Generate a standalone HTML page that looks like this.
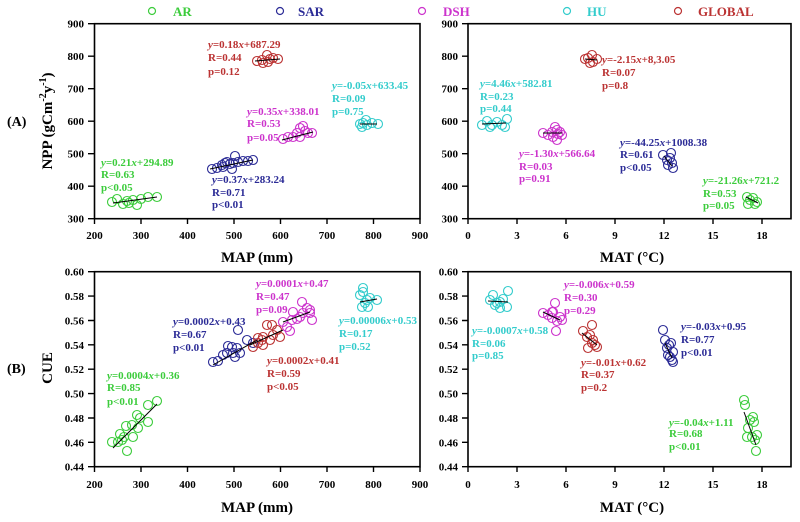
<!DOCTYPE html>
<html><head><meta charset="utf-8"><style>
html,body{margin:0;padding:0;background:#fff;}
svg{display:block;font-family:"Liberation Serif",serif;font-weight:bold;}
.t{font-size:11px;}
.ax{font-size:15px;}
.a{font-size:11px;}
.AR{fill:#3ccc3c;} .SAR{fill:#2b2b96;} .DSH{fill:#cc33cc;} .HU{fill:#33cccc;} .GL{fill:#bb3333;}
</style></head><body>
<svg width="800" height="522" viewBox="0 0 800 522" xmlns="http://www.w3.org/2000/svg">
<!-- Legend -->
<g fill="none" stroke-width="1.2">
<circle cx="152" cy="11" r="3.5" stroke="#3ccc3c"/>
<circle cx="280" cy="11" r="3.5" stroke="#2b2b96"/>
<circle cx="422" cy="11" r="3.5" stroke="#cc33cc"/>
<circle cx="567" cy="11" r="3.5" stroke="#33cccc"/>
<circle cx="678" cy="11" r="3.5" stroke="#bb3333"/>
</g>
<g style="font-size:13px">
<text x="173" y="16" class="AR">AR</text>
<text x="298" y="16" class="SAR">SAR</text>
<text x="443" y="16" class="DSH">DSH</text>
<text x="587" y="16" class="HU">HU</text>
<text x="698" y="16" class="GL">GLOBAL</text>
</g>

<!-- Panel frames -->
<g fill="none" stroke="#000" stroke-width="1.6">
<rect x="94.5" y="23.7" width="325.5" height="195"/>
<rect x="468" y="23.7" width="323" height="195"/>
<rect x="94.5" y="271.7" width="325.5" height="195"/>
<rect x="468" y="271.7" width="323" height="195"/>
</g>
<!-- ticks -->
<g stroke="#000" stroke-width="1.4">
<path d="M88 23.7H94.5M88 56.2H94.5M88 88.7H94.5M88 121.2H94.5M88 153.7H94.5M88 186.2H94.5M88 218.7H94.5"/>
<path d="M462 23.7H468M462 56.2H468M462 88.7H468M462 121.2H468M462 153.7H468M462 186.2H468M462 218.7H468"/>
<path d="M88 271.7H94.5M88 296.1H94.5M88 320.5H94.5M88 344.8H94.5M88 369.2H94.5M88 393.6H94.5M88 418H94.5M88 442.3H94.5M88 466.7H94.5"/>
<path d="M462 271.7H468M462 296.1H468M462 320.5H468M462 344.8H468M462 369.2H468M462 393.6H468M462 418H468M462 442.3H468M462 466.7H468"/>
<path d="M94.5 218.7V224M141 218.7V224M187.5 218.7V224M234 218.7V224M280.5 218.7V224M327 218.7V224M373.5 218.7V224M420 218.7V224"/>
<path d="M468 218.7V224M517 218.7V224M566 218.7V224M615 218.7V224M664 218.7V224M713 218.7V224M762 218.7V224"/>
<path d="M94.5 466.7V472M141 466.7V472M187.5 466.7V472M234 466.7V472M280.5 466.7V472M327 466.7V472M373.5 466.7V472M420 466.7V472"/>
<path d="M468 466.7V472M517 466.7V472M566 466.7V472M615 466.7V472M664 466.7V472M713 466.7V472M762 466.7V472"/>
</g>
<!-- tick labels -->
<g class="t" text-anchor="end">
<text x="84" y="27.7">900</text><text x="84" y="60.2">800</text><text x="84" y="92.7">700</text><text x="84" y="125.2">600</text><text x="84" y="157.7">500</text><text x="84" y="190.2">400</text><text x="84" y="222.7">300</text>
<text x="458" y="27.7">900</text><text x="458" y="60.2">800</text><text x="458" y="92.7">700</text><text x="458" y="125.2">600</text><text x="458" y="157.7">500</text><text x="458" y="190.2">400</text><text x="458" y="222.7">300</text>
<text x="84" y="275.7">0.60</text><text x="84" y="300.1">0.58</text><text x="84" y="324.5">0.56</text><text x="84" y="348.8">0.54</text><text x="84" y="373.2">0.52</text><text x="84" y="397.6">0.50</text><text x="84" y="422">0.48</text><text x="84" y="446.3">0.46</text><text x="84" y="470.7">0.44</text>
<text x="458" y="275.7">0.60</text><text x="458" y="300.1">0.58</text><text x="458" y="324.5">0.56</text><text x="458" y="348.8">0.54</text><text x="458" y="373.2">0.52</text><text x="458" y="397.6">0.50</text><text x="458" y="422">0.48</text><text x="458" y="446.3">0.46</text><text x="458" y="470.7">0.44</text>
</g>
<g class="t" text-anchor="middle">
<text x="94.5" y="239">200</text><text x="141" y="239">300</text><text x="187.5" y="239">400</text><text x="234" y="239">500</text><text x="280.5" y="239">600</text><text x="327" y="239">700</text><text x="373.5" y="239">800</text><text x="420" y="239">900</text>
<text x="468" y="239">0</text><text x="517" y="239">3</text><text x="566" y="239">6</text><text x="615" y="239">9</text><text x="664" y="239">12</text><text x="713" y="239">15</text><text x="762" y="239">18</text>
<text x="94.5" y="488">200</text><text x="141" y="488">300</text><text x="187.5" y="488">400</text><text x="234" y="488">500</text><text x="280.5" y="488">600</text><text x="327" y="488">700</text><text x="373.5" y="488">800</text><text x="420" y="488">900</text>
<text x="468" y="488">0</text><text x="517" y="488">3</text><text x="566" y="488">6</text><text x="615" y="488">9</text><text x="664" y="488">12</text><text x="713" y="488">15</text><text x="762" y="488">18</text>
</g>
<!-- axis titles -->
<g class="ax" text-anchor="middle">
<text x="257" y="262">MAP (mm)</text>
<text x="632" y="262">MAT (°C)</text>
<text x="257" y="512">MAP (mm)</text>
<text x="632" y="512">MAT (°C)</text>
<text transform="translate(52,121) rotate(-90)">NPP (gCm<tspan dy="-6" style="font-size:10px">-2</tspan><tspan dy="6">y</tspan><tspan dy="-6" style="font-size:10px">-1</tspan><tspan dy="6">)</tspan></text>
<text transform="translate(52,368) rotate(-90)">CUE</text>
</g>
<g style="font-size:14px">
<text x="7" y="126">(A)</text>
<text x="7" y="373">(B)</text>
</g>

<!-- ============ Top-left panel ============ -->
<g fill="none" stroke-width="1.1">
<g stroke="#3ccc3c">
<circle cx="112" cy="202" r="4.5"/><circle cx="117" cy="199" r="4.5"/><circle cx="123" cy="204" r="4.5"/><circle cx="127" cy="201" r="4.5"/><circle cx="133" cy="200" r="4.5"/><circle cx="137" cy="205" r="4.5"/><circle cx="141" cy="199" r="4.5"/><circle cx="148" cy="197" r="4.5"/><circle cx="157" cy="197" r="4.5"/><circle cx="129" cy="203" r="4.5"/>
</g>
<g stroke="#2b2b96">
<circle cx="212" cy="169" r="4.5"/><circle cx="217" cy="168" r="4.5"/><circle cx="222" cy="165" r="4.5"/><circle cx="225" cy="163" r="4.5"/><circle cx="227" cy="162" r="4.5"/><circle cx="230" cy="164" r="4.5"/><circle cx="232" cy="169" r="4.5"/><circle cx="235" cy="156" r="4.5"/><circle cx="238" cy="162" r="4.5"/><circle cx="243" cy="161" r="4.5"/><circle cx="248" cy="161" r="4.5"/><circle cx="253" cy="160" r="4.5"/><circle cx="223" cy="167" r="4.5"/><circle cx="233" cy="163" r="4.5"/>
</g>
<g stroke="#cc33cc">
<circle cx="283" cy="139" r="4.5"/><circle cx="288" cy="137" r="4.5"/><circle cx="293" cy="137" r="4.5"/><circle cx="297" cy="133" r="4.5"/><circle cx="300" cy="128" r="4.5"/><circle cx="303" cy="126" r="4.5"/><circle cx="305" cy="131" r="4.5"/><circle cx="308" cy="133" r="4.5"/><circle cx="312" cy="133" r="4.5"/><circle cx="300" cy="137" r="4.5"/>
</g>
<g stroke="#bb3333">
<circle cx="257" cy="61" r="4.5"/><circle cx="262" cy="60" r="4.5"/><circle cx="267" cy="55" r="4.5"/><circle cx="270" cy="59" r="4.5"/><circle cx="273" cy="58" r="4.5"/><circle cx="263" cy="63" r="4.5"/><circle cx="278" cy="59" r="4.5"/><circle cx="268" cy="62" r="4.5"/>
</g>
<g stroke="#33cccc">
<circle cx="360" cy="124" r="4.5"/><circle cx="363" cy="123" r="4.5"/><circle cx="366" cy="120" r="4.5"/><circle cx="367" cy="125" r="4.5"/><circle cx="372" cy="123" r="4.5"/><circle cx="378" cy="124" r="4.5"/><circle cx="362" cy="127" r="4.5"/>
</g>
</g>
<g stroke="#000" stroke-width="1">
<line x1="113" y1="203" x2="157" y2="197"/>
<line x1="210" y1="169" x2="253" y2="160"/>
<line x1="282" y1="140" x2="313" y2="132"/>
<line x1="255" y1="61" x2="280" y2="59"/>
<line x1="360" y1="124" x2="377" y2="124"/>
</g>
<g class="a">
<text class="AR" x="101" y="166"><tspan font-style="italic">y</tspan>=0.21<tspan font-style="italic">x</tspan>+294.89</text>
<text class="AR" x="101" y="178">R=0.63</text>
<text class="AR" x="101" y="191">p&lt;0.05</text>
<text class="SAR" x="212" y="183"><tspan font-style="italic">y</tspan>=0.37<tspan font-style="italic">x</tspan>+283.24</text>
<text class="SAR" x="212" y="196">R=0.71</text>
<text class="SAR" x="212" y="208">p&lt;0.01</text>
<text class="DSH" x="247" y="115"><tspan font-style="italic">y</tspan>=0.35<tspan font-style="italic">x</tspan>+338.01</text>
<text class="DSH" x="247" y="127">R=0.53</text>
<text class="DSH" x="247" y="141">p=0.05</text>
<text class="GL" x="208" y="48"><tspan font-style="italic">y</tspan>=0.18<tspan font-style="italic">x</tspan>+687.29</text>
<text class="GL" x="208" y="61">R=0.44</text>
<text class="GL" x="208" y="75">p=0.12</text>
<text class="HU" x="332" y="89"><tspan font-style="italic">y</tspan>=-0.05<tspan font-style="italic">x</tspan>+633.45</text>
<text class="HU" x="332" y="102">R=0.09</text>
<text class="HU" x="332" y="115">p=0.75</text>
</g>

<!-- ============ Top-right panel ============ -->
<g fill="none" stroke-width="1.1">
<g stroke="#33cccc">
<circle cx="482" cy="125" r="4.5"/><circle cx="487" cy="121" r="4.5"/><circle cx="492" cy="125" r="4.5"/><circle cx="497" cy="122" r="4.5"/><circle cx="502" cy="125" r="4.5"/><circle cx="507" cy="119" r="4.5"/><circle cx="505" cy="127" r="4.5"/><circle cx="490" cy="127" r="4.5"/>
</g>
<g stroke="#cc33cc">
<circle cx="543" cy="133" r="4.5"/><circle cx="548" cy="135" r="4.5"/><circle cx="552" cy="132" r="4.5"/><circle cx="555" cy="127" r="4.5"/><circle cx="557" cy="130" r="4.5"/><circle cx="560" cy="132" r="4.5"/><circle cx="562" cy="135" r="4.5"/><circle cx="557" cy="140" r="4.5"/><circle cx="553" cy="137" r="4.5"/><circle cx="558" cy="134" r="4.5"/>
</g>
<g stroke="#bb3333">
<circle cx="585" cy="59" r="4.5"/><circle cx="588" cy="58" r="4.5"/><circle cx="592" cy="55" r="4.5"/><circle cx="593" cy="62" r="4.5"/><circle cx="597" cy="59" r="4.5"/><circle cx="590" cy="63" r="4.5"/>
</g>
<g stroke="#2b2b96">
<circle cx="663" cy="155" r="4.5"/><circle cx="667" cy="160" r="4.5"/><circle cx="670" cy="158" r="4.5"/><circle cx="672" cy="163" r="4.5"/><circle cx="668" cy="165" r="4.5"/><circle cx="673" cy="168" r="4.5"/><circle cx="671" cy="153" r="4.5"/>
</g>
<g stroke="#3ccc3c">
<circle cx="747" cy="197" r="4.5"/><circle cx="750" cy="200" r="4.5"/><circle cx="753" cy="198" r="4.5"/><circle cx="757" cy="202" r="4.5"/><circle cx="755" cy="204" r="4.5"/><circle cx="748" cy="204" r="4.5"/>
</g>
</g>
<g stroke="#000" stroke-width="1">
<line x1="482" y1="124" x2="506" y2="123"/>
<line x1="543" y1="133" x2="562" y2="133"/>
<line x1="585" y1="59" x2="597" y2="60"/>
<line x1="664" y1="156" x2="672" y2="166"/>
<line x1="746" y1="197" x2="758" y2="203"/>
</g>
<g class="a">
<text class="HU" x="480" y="87"><tspan font-style="italic">y</tspan>=4.46<tspan font-style="italic">x</tspan>+582.81</text>
<text class="HU" x="480" y="100">R=0.23</text>
<text class="HU" x="480" y="112">p=0.44</text>
<text class="DSH" x="519" y="157"><tspan font-style="italic">y</tspan>=-1.30<tspan font-style="italic">x</tspan>+566.64</text>
<text class="DSH" x="519" y="170">R=0.03</text>
<text class="DSH" x="519" y="182">p=0.91</text>
<text class="GL" x="602" y="63"><tspan font-style="italic">y</tspan>=-2.15<tspan font-style="italic">x</tspan>+8,3.05</text>
<text class="GL" x="602" y="76">R=0.07</text>
<text class="GL" x="602" y="89">p=0.8</text>
<text class="SAR" x="620" y="146"><tspan font-style="italic">y</tspan>=-44.25<tspan font-style="italic">x</tspan>+1008.38</text>
<text class="SAR" x="620" y="158">R=0.61</text>
<text class="SAR" x="620" y="171">p&lt;0.05</text>
<text class="AR" x="703" y="184"><tspan font-style="italic">y</tspan>=-21.26<tspan font-style="italic">x</tspan>+721.2</text>
<text class="AR" x="703" y="197">R=0.53</text>
<text class="AR" x="703" y="209">p=0.05</text>
</g>

<!-- ============ Bottom-left panel ============ -->
<g fill="none" stroke-width="1.1">
<g stroke="#3ccc3c">
<circle cx="112" cy="442" r="4.5"/><circle cx="118" cy="442" r="4.5"/><circle cx="122" cy="440" r="4.5"/><circle cx="126" cy="426" r="4.5"/><circle cx="127" cy="451" r="4.5"/><circle cx="132" cy="425" r="4.5"/><circle cx="133" cy="437" r="4.5"/><circle cx="137" cy="415" r="4.5"/><circle cx="140" cy="418" r="4.5"/><circle cx="138" cy="428" r="4.5"/><circle cx="148" cy="422" r="4.5"/><circle cx="148" cy="405" r="4.5"/><circle cx="157" cy="401" r="4.5"/><circle cx="120" cy="434" r="4.5"/><circle cx="124" cy="437" r="4.5"/>
</g>
<g stroke="#2b2b96">
<circle cx="213" cy="362" r="4.5"/><circle cx="218" cy="361" r="4.5"/><circle cx="223" cy="355" r="4.5"/><circle cx="227" cy="353" r="4.5"/><circle cx="228" cy="346" r="4.5"/><circle cx="232" cy="347" r="4.5"/><circle cx="233" cy="353" r="4.5"/><circle cx="237" cy="348" r="4.5"/><circle cx="235" cy="357" r="4.5"/><circle cx="238" cy="330" r="4.5"/><circle cx="247" cy="340" r="4.5"/><circle cx="253" cy="343" r="4.5"/><circle cx="240" cy="353" r="4.5"/>
</g>
<g stroke="#bb3333">
<circle cx="253" cy="347" r="4.5"/><circle cx="258" cy="343" r="4.5"/><circle cx="262" cy="340" r="4.5"/><circle cx="263" cy="337" r="4.5"/><circle cx="267" cy="325" r="4.5"/><circle cx="270" cy="340" r="4.5"/><circle cx="273" cy="335" r="4.5"/><circle cx="277" cy="330" r="4.5"/><circle cx="280" cy="337" r="4.5"/><circle cx="272" cy="325" r="4.5"/><circle cx="258" cy="338" r="4.5"/><circle cx="263" cy="345" r="4.5"/>
</g>
<g stroke="#cc33cc">
<circle cx="283" cy="322" r="4.5"/><circle cx="287" cy="327" r="4.5"/><circle cx="290" cy="331" r="4.5"/><circle cx="293" cy="312" r="4.5"/><circle cx="297" cy="319" r="4.5"/><circle cx="300" cy="317" r="4.5"/><circle cx="303" cy="313" r="4.5"/><circle cx="307" cy="308" r="4.5"/><circle cx="310" cy="313" r="4.5"/><circle cx="312" cy="320" r="4.5"/><circle cx="302" cy="302" r="4.5"/><circle cx="292" cy="320" r="4.5"/><circle cx="310" cy="310" r="4.5"/>
</g>
<g stroke="#33cccc">
<circle cx="360" cy="295" r="4.5"/><circle cx="363" cy="292" r="4.5"/><circle cx="367" cy="300" r="4.5"/><circle cx="368" cy="307" r="4.5"/><circle cx="370" cy="298" r="4.5"/><circle cx="377" cy="300" r="4.5"/><circle cx="362" cy="307" r="4.5"/><circle cx="365" cy="303" r="4.5"/><circle cx="363" cy="288" r="4.5"/>
</g>
</g>
<g stroke="#000" stroke-width="1">
<line x1="113" y1="448" x2="157" y2="404"/>
<line x1="213" y1="365" x2="257" y2="340"/>
<line x1="250" y1="345" x2="283" y2="330"/>
<line x1="283" y1="322" x2="310" y2="312"/>
<line x1="360" y1="302" x2="377" y2="299"/>
</g>
<g class="a">
<text class="AR" x="107" y="379"><tspan font-style="italic">y</tspan>=0.0004<tspan font-style="italic">x</tspan>+0.36</text>
<text class="AR" x="107" y="391">R=0.85</text>
<text class="AR" x="107" y="405">p&lt;0.01</text>
<text class="SAR" x="173" y="325"><tspan font-style="italic">y</tspan>=0.0002<tspan font-style="italic">x</tspan>+0.43</text>
<text class="SAR" x="173" y="338">R=0.67</text>
<text class="SAR" x="173" y="351">p&lt;0.01</text>
<text class="GL" x="267" y="364"><tspan font-style="italic">y</tspan>=0.0002<tspan font-style="italic">x</tspan>+0.41</text>
<text class="GL" x="267" y="377">R=0.59</text>
<text class="GL" x="267" y="390">p&lt;0.05</text>
<text class="DSH" x="256" y="287"><tspan font-style="italic">y</tspan>=0.0001<tspan font-style="italic">x</tspan>+0.47</text>
<text class="DSH" x="256" y="300">R=0.47</text>
<text class="DSH" x="256" y="313">p=0.09</text>
<text class="HU" x="339" y="324"><tspan font-style="italic">y</tspan>=0.00006<tspan font-style="italic">x</tspan>+0.53</text>
<text class="HU" x="339" y="337">R=0.17</text>
<text class="HU" x="339" y="350">p=0.52</text>
</g>

<!-- ============ Bottom-right panel ============ -->
<g fill="none" stroke-width="1.1">
<g stroke="#33cccc">
<circle cx="490" cy="300" r="4.5"/><circle cx="493" cy="295" r="4.5"/><circle cx="497" cy="303" r="4.5"/><circle cx="500" cy="302" r="4.5"/><circle cx="503" cy="299" r="4.5"/><circle cx="507" cy="307" r="4.5"/><circle cx="508" cy="291" r="4.5"/><circle cx="500" cy="308" r="4.5"/><circle cx="495" cy="305" r="4.5"/>
</g>
<g stroke="#cc33cc">
<circle cx="543" cy="313" r="4.5"/><circle cx="548" cy="315" r="4.5"/><circle cx="552" cy="318" r="4.5"/><circle cx="553" cy="312" r="4.5"/><circle cx="555" cy="303" r="4.5"/><circle cx="557" cy="321" r="4.5"/><circle cx="560" cy="317" r="4.5"/><circle cx="562" cy="320" r="4.5"/><circle cx="556" cy="331" r="4.5"/><circle cx="552" cy="312" r="4.5"/>
</g>
<g stroke="#bb3333">
<circle cx="583" cy="331" r="4.5"/><circle cx="587" cy="337" r="4.5"/><circle cx="590" cy="335" r="4.5"/><circle cx="592" cy="325" r="4.5"/><circle cx="593" cy="340" r="4.5"/><circle cx="595" cy="345" r="4.5"/><circle cx="597" cy="347" r="4.5"/><circle cx="588" cy="348" r="4.5"/><circle cx="592" cy="343" r="4.5"/>
</g>
<g stroke="#2b2b96">
<circle cx="663" cy="330" r="4.5"/><circle cx="665" cy="340" r="4.5"/><circle cx="667" cy="348" r="4.5"/><circle cx="668" cy="355" r="4.5"/><circle cx="669" cy="345" r="4.5"/><circle cx="671" cy="343" r="4.5"/><circle cx="672" cy="360" r="4.5"/><circle cx="673" cy="352" r="4.5"/><circle cx="673" cy="362" r="4.5"/><circle cx="670" cy="357" r="4.5"/>
</g>
<g stroke="#3ccc3c">
<circle cx="744" cy="400" r="4.5"/><circle cx="745" cy="405" r="4.5"/><circle cx="748" cy="428" r="4.5"/><circle cx="750" cy="420" r="4.5"/><circle cx="752" cy="437" r="4.5"/><circle cx="753" cy="417" r="4.5"/><circle cx="755" cy="440" r="4.5"/><circle cx="754" cy="422" r="4.5"/><circle cx="757" cy="435" r="4.5"/><circle cx="756" cy="451" r="4.5"/><circle cx="747" cy="437" r="4.5"/>
</g>
</g>
<g stroke="#000" stroke-width="1">
<line x1="488" y1="301" x2="508" y2="302"/>
<line x1="543" y1="312" x2="560" y2="320"/>
<line x1="582" y1="333" x2="597" y2="345"/>
<line x1="665" y1="343" x2="672" y2="358"/>
<line x1="744" y1="412" x2="756" y2="445"/>
</g>
<g class="a">
<text class="HU" x="472" y="334"><tspan font-style="italic">y</tspan>=-0.0007<tspan font-style="italic">x</tspan>+0.58</text>
<text class="HU" x="472" y="347">R=0.06</text>
<text class="HU" x="472" y="359">p=0.85</text>
<text class="DSH" x="564" y="288"><tspan font-style="italic">y</tspan>=-0.006<tspan font-style="italic">x</tspan>+0.59</text>
<text class="DSH" x="564" y="301">R=0.30</text>
<text class="DSH" x="564" y="314">p=0.29</text>
<text class="GL" x="581" y="366"><tspan font-style="italic">y</tspan>=-0.01<tspan font-style="italic">x</tspan>+0.62</text>
<text class="GL" x="581" y="378">R=0.37</text>
<text class="GL" x="581" y="391">p=0.2</text>
<text class="SAR" x="681" y="330"><tspan font-style="italic">y</tspan>=-0.03<tspan font-style="italic">x</tspan>+0.95</text>
<text class="SAR" x="681" y="343">R=0.77</text>
<text class="SAR" x="681" y="356">p&lt;0.01</text>
<text class="AR" x="669" y="426"><tspan font-style="italic">y</tspan>=-0.04<tspan font-style="italic">x</tspan>+1.11</text>
<text class="AR" x="669" y="437">R=0.68</text>
<text class="AR" x="669" y="450">p&lt;0.01</text>
</g>
</svg>
</body></html>
